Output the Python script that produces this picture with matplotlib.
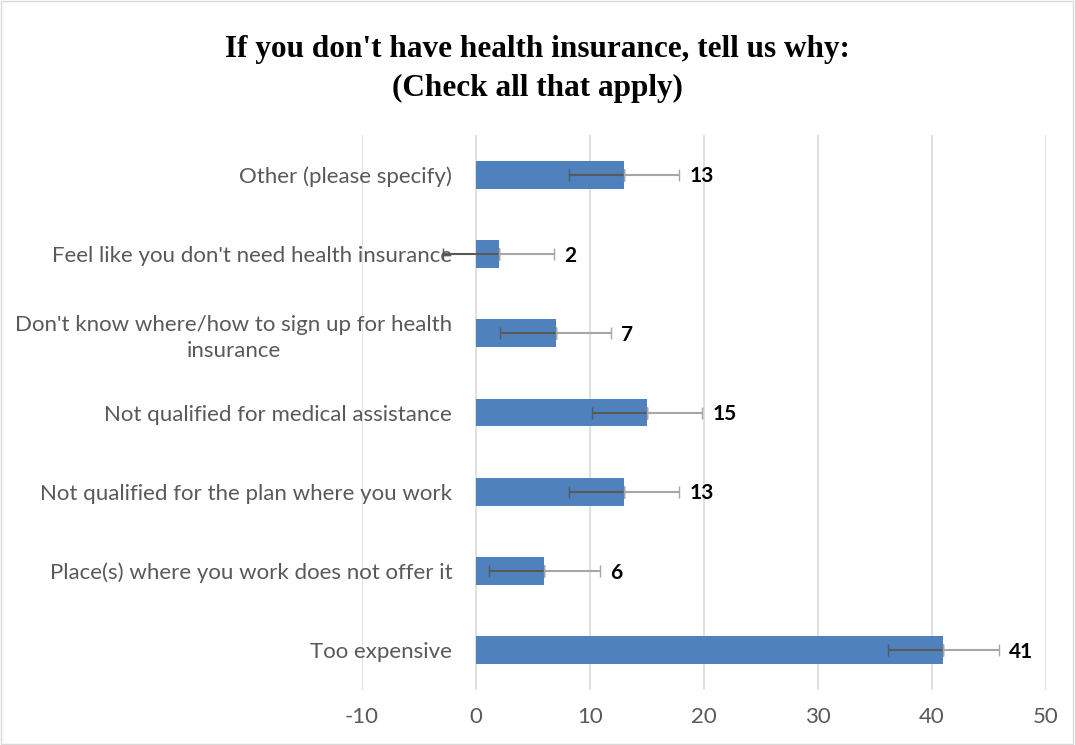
import matplotlib.pyplot as plt
from matplotlib.patches import Rectangle

plt.rcParams["axes.unicode_minus"] = False

# answers, bottom to top as drawn
reasons = [
    "Too expensive",
    "Place(s) where you work does not offer it",
    "Not qualified for the plan where you work",
    "Not qualified for medical assistance",
    "Don't know where/how to sign up for health\ninsurance",
    "Feel like you don't need health insurance",
    "Other (please specify)",
]
counts = [41, 6, 13, 15, 7, 2, 13]
err = [4.85, 4.85, 4.85, 4.85, 4.85, 4.85, 4.85]

fig = plt.figure(figsize=(10.75, 7.45), dpi=100, facecolor="w")
ax = fig.add_axes([0.3367, 0.0738, 0.6363, 0.745])

pos = list(range(len(reasons)))
ax.barh(pos, counts, height=0.35, color="#4f81bd", zorder=2)

# minus side dark, plus side light (like the excel default)
ax.errorbar(counts, pos, xerr=[err, [0] * len(err)], fmt="none",
            ecolor="#595959", elinewidth=1.5, capsize=4, zorder=3)
ax.errorbar(counts, pos, xerr=[[0] * len(err), err], fmt="none",
            ecolor="#a6a6a6", elinewidth=1.5, capsize=4, zorder=3)

for p, v, e in zip(pos, counts, err):
    ax.text(v + e + 0.9, p - 0.02, str(v), va="center", ha="left",
            fontsize=15, fontweight="bold", family="Lato", color="black")

ax.set_xlim(-10, 50)
ax.set_ylim(-0.5, 6.5)
ax.set_xticks(range(-10, 51, 10))
ax.set_yticks(pos)
ax.set_yticklabels(reasons, multialignment="center", linespacing=1.35)
for lab in ax.get_xticklabels() + ax.get_yticklabels():
    lab.set_family("Lato")
    lab.set_fontsize(16)
    lab.set_color("#595959")
ax.tick_params(length=0)
ax.tick_params(axis="x", pad=12)
# labels sit inside the plot, just left of zero
ax.tick_params(axis="y", pad=-65)
ax.grid(axis="x", color="#d9d9d9", linewidth=1.2, zorder=0)
for s in ax.spines.values():
    s.set_visible(False)

fig.text(0.5, 0.953, "If you don't have health insurance, tell us why:\n(Check all that apply)",
         ha="center", va="top", fontsize=22.5, fontweight="bold",
         family="Liberation Serif", linespacing=1.45)

fig.patches.append(Rectangle((0.001, 0.001), 0.997, 0.997, transform=fig.transFigure,
                             fill=False, edgecolor="#d9d9d9", linewidth=1))

plt.savefig("out.png", dpi=100)
